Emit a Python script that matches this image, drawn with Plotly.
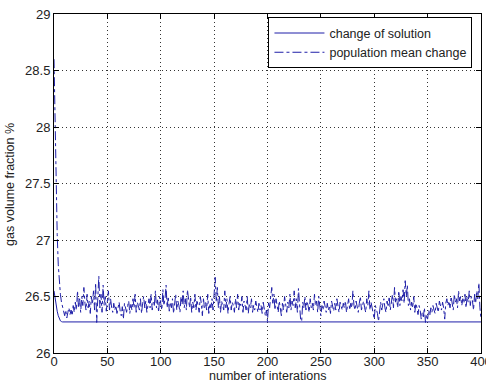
import plotly.graph_objects as go

# change of solution (solid)
sol_x = [0, 1, 2, 3, 4, 5, 6, 7, 8, 400]
sol_y = [26.55, 26.48, 26.42, 26.37, 26.33, 26.30, 26.285, 26.278, 26.275, 26.275]

# population mean change (dash-dot), one value per iteration 0..400
pop_y = [
    28.60, 28.05, 27.45, 27.05, 26.78, 26.62, 26.52, 26.45, 26.40, 26.36,
    26.33, 26.38, 26.31, 26.36, 26.40, 26.34, 26.38, 26.33, 26.42, 26.36,
    26.45, 26.38, 26.55, 26.40, 26.48, 26.36, 26.50, 26.42, 26.58, 26.44,
    26.38, 26.52, 26.40, 26.46, 26.35, 26.50, 26.43, 26.55, 26.38, 26.62,
    26.27, 26.48, 26.68, 26.40, 26.52, 26.36, 26.60, 26.42, 26.50, 26.37,
    26.45, 26.55, 26.38, 26.48, 26.40, 26.36, 26.44, 26.38, 26.42, 26.35,
    26.40, 26.45, 26.37, 26.33, 26.41, 26.30, 26.44, 26.38, 26.36, 26.42,
    26.46, 26.35, 26.43, 26.38, 26.48, 26.40, 26.52, 26.36, 26.45, 26.42,
    26.38, 26.48, 26.35, 26.44, 26.50, 26.40, 26.46, 26.36, 26.42, 26.48,
    26.40, 26.52, 26.38, 26.45, 26.42, 26.55, 26.40, 26.47, 26.36, 26.50,
    26.44, 26.38, 26.56, 26.42, 26.48, 26.60, 26.40, 26.50, 26.37, 26.45,
    26.40, 26.48, 26.35, 26.44, 26.52, 26.38, 26.46, 26.42, 26.36, 26.50,
    26.43, 26.55, 26.40, 26.48, 26.38, 26.56, 26.44, 26.40, 26.50, 26.36,
    26.45, 26.40, 26.52, 26.38, 26.47, 26.42, 26.36, 26.50, 26.44, 26.33,
    26.48, 26.40, 26.45, 26.38, 26.52, 26.35, 26.44, 26.40, 26.48, 26.38,
    26.55, 26.67, 26.45, 26.58, 26.40, 26.50, 26.36, 26.46, 26.42, 26.38,
    26.55, 26.40, 26.48, 26.35, 26.44, 26.50, 26.38, 26.45, 26.42, 26.36,
    26.48, 26.40, 26.52, 26.38, 26.45, 26.42, 26.50, 26.36, 26.46, 26.40,
    26.38, 26.50, 26.35, 26.44, 26.40, 26.48, 26.36, 26.42, 26.38, 26.46,
    26.40, 26.36, 26.44, 26.38, 26.42, 26.35, 26.45, 26.40, 26.33, 26.38,
    26.28, 26.45, 26.40, 26.50, 26.58, 26.44, 26.52, 26.38, 26.48, 26.42,
    26.36, 26.46, 26.40, 26.33, 26.44, 26.38, 26.50, 26.42, 26.36, 26.45,
    26.40, 26.52, 26.38, 26.46, 26.42, 26.55, 26.40, 26.48, 26.36, 26.57,
    26.44, 26.30, 26.28, 26.45, 26.40, 26.50, 26.38, 26.46, 26.42, 26.36,
    26.48, 26.40, 26.44, 26.38, 26.52, 26.42, 26.46, 26.36, 26.50, 26.40,
    26.33, 26.42, 26.38, 26.46, 26.40, 26.36, 26.44, 26.38, 26.42, 26.35,
    26.46, 26.40, 26.37, 26.44, 26.38, 26.48, 26.42, 26.36, 26.45, 26.40,
    26.38, 26.44, 26.40, 26.46, 26.36, 26.42, 26.48, 26.38, 26.44, 26.40,
    26.55, 26.42, 26.38, 26.46, 26.40, 26.36, 26.44, 26.50, 26.38, 26.42,
    26.46, 26.40, 26.36, 26.48, 26.42, 26.55, 26.38, 26.45, 26.40, 26.34,
    26.30, 26.42, 26.38, 26.35, 26.28, 26.40, 26.45, 26.38, 26.42, 26.48,
    26.40, 26.36, 26.46, 26.42, 26.50, 26.38, 26.44, 26.52, 26.40, 26.58,
    26.45, 26.48, 26.40, 26.55, 26.42, 26.50, 26.46, 26.56, 26.44, 26.64,
    26.50, 26.60, 26.42, 26.48, 26.38, 26.45, 26.40, 26.50, 26.36, 26.44,
    26.40, 26.34, 26.42, 26.38, 26.30, 26.36, 26.32, 26.40, 26.27, 26.34,
    26.30, 26.38, 26.33, 26.40, 26.36, 26.42, 26.38, 26.35, 26.44, 26.40,
    26.36, 26.46, 26.42, 26.38, 26.45, 26.40, 26.30, 26.44, 26.48, 26.42,
    26.46, 26.40, 26.50, 26.44, 26.38, 26.52, 26.45, 26.48, 26.40, 26.55,
    26.46, 26.50, 26.42, 26.48, 26.44, 26.52, 26.40, 26.50, 26.45, 26.55,
    26.42, 26.50, 26.46, 26.38, 26.52, 26.44, 26.55, 26.48, 26.62, 26.40,
    26.30,
]
pop_x = list(range(len(pop_y)))

x_ticks = [0, 50, 100, 150, 200, 250, 300, 350, 400]
y_ticks = [26, 26.5, 27, 27.5, 28, 28.5, 29]
y_tick_text = ["26", "26.5", "27", "27.5", "28", "28.5", "29"]

x_title = "number of interations"
y_title = "gas volume fraction %"

line_color = "#1f1fa8"
font_family = "Liberation Sans, Arial, sans-serif"
text_color = "#222"

fig = go.Figure()
fig.add_trace(go.Scatter(x=sol_x, y=sol_y, mode="lines", name="change of solution",
                         line=dict(color=line_color, width=1)))
fig.add_trace(go.Scatter(x=pop_x, y=pop_y, mode="lines", name="population mean change",
                         line=dict(color=line_color, width=1, dash="dashdot")))

axis_common = dict(
    showline=True, linecolor="black", linewidth=1, mirror="allticks",
    ticks="inside", ticklen=5, tickcolor="black",
    showgrid=True, gridcolor="#333", gridwidth=1, griddash="1px,3px",
    zeroline=False, automargin=False, ticklabeloverflow="allow",
    tickfont=dict(size=13, color=text_color, family=font_family),
)

fig.update_layout(
    width=486, height=384,
    margin=dict(l=54, r=5, t=14, b=31),
    paper_bgcolor="white", plot_bgcolor="white",
    font=dict(family=font_family, size=12, color=text_color),
    xaxis=dict(range=[0, 400], tickvals=x_ticks, autorange=False,
               ticklabelstandoff=-4, **axis_common),
    yaxis=dict(range=[26, 29], tickvals=y_ticks, ticktext=y_tick_text, autorange=False,
               **axis_common),
    legend=dict(x=0.98, y=0.99, xanchor="right", yanchor="top",
                bgcolor="white", bordercolor="black", borderwidth=1,
                font=dict(size=12.5, family=font_family, color=text_color),
                tracegroupgap=0, itemwidth=50),
    showlegend=True,
    annotations=[
        dict(text=x_title, xref="paper", yref="paper", x=0.5, y=-0.069,
             xanchor="center", yanchor="middle", showarrow=False,
             font=dict(size=12.5, family=font_family, color=text_color)),
        dict(text=y_title, xref="paper", yref="paper", x=-0.103, y=0.496,
             xanchor="center", yanchor="middle", showarrow=False, textangle=-90,
             font=dict(size=12.5, family=font_family, color=text_color)),
    ],
)

fig.write_html("out.html", config={"displayModeBar": False},
               post_script="document.body.style.margin='0';")
